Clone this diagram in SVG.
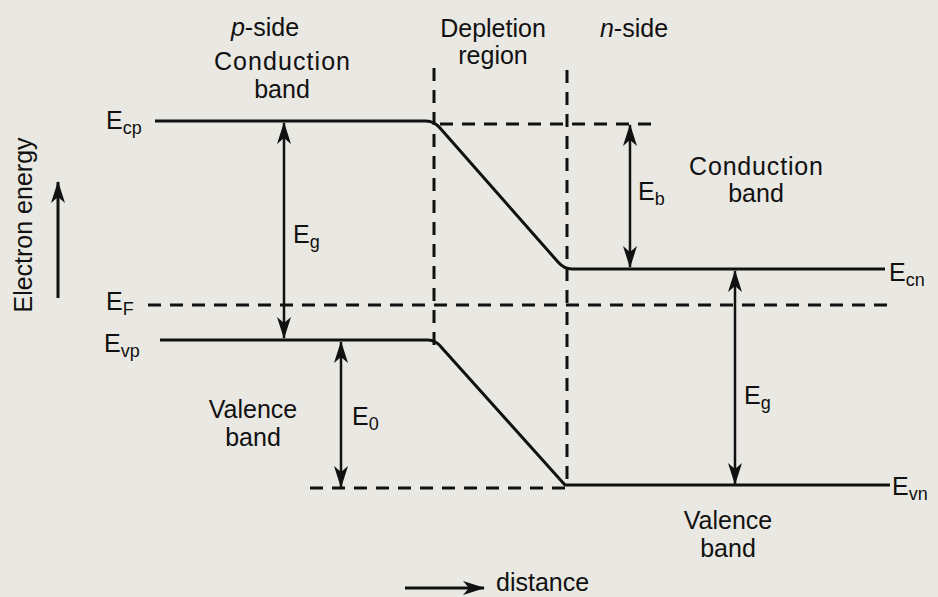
<svg xmlns="http://www.w3.org/2000/svg" width="938" height="597" viewBox="0 0 938 597">
<defs>
<marker id="ah" viewBox="0 0 22 14" refX="21" refY="7" markerWidth="22" markerHeight="14" markerUnits="userSpaceOnUse" orient="auto-start-reverse">
<path d="M0,0 L22,7 L0,14 L6,7 Z" fill="#111"/>
</marker>
<style>
.t{font-family:"Liberation Sans",Arial,sans-serif;font-size:25px;fill:#111}
.s{font-size:18px}
.band{fill:none;stroke:#111;stroke-width:3}
.dash{fill:none;stroke:#111;stroke-width:3;stroke-dasharray:13 9}
.arr{stroke:#111;stroke-width:2.5;marker-start:url(#ah);marker-end:url(#ah)}
</style>
</defs>
<rect width="938" height="597" fill="#e9e8e2"/>
<g id="connectors">
<path class="band" d="M155,121 H426 Q434,121 440,128 L558,262 Q564,269 572,269 H885"/>
<path class="band" d="M160,340 H428 Q436,340 442,348 L565,485 H890"/>
<path class="dash" d="M440,124 H660"/>
<path class="dash" d="M148,305 H892"/>
<path class="dash" d="M310,488 H565"/>
<path class="dash" d="M434,68 V345"/>
<path class="dash" d="M567,70 V488"/>
<line class="arr" x1="284" y1="123" x2="284" y2="338"/>
<line class="arr" x1="341" y1="342" x2="341" y2="487"/>
<line class="arr" x1="630" y1="125" x2="630" y2="267"/>
<line class="arr" x1="735" y1="271" x2="735" y2="484"/>
<line stroke="#111" stroke-width="3" x1="58" y1="298" x2="58" y2="182" marker-end="url(#ah)"/>
<line stroke="#111" stroke-width="3" x1="405" y1="588" x2="484" y2="588" marker-end="url(#ah)"/>
</g>
<g id="labels">
<text class="t" x="265" y="36" text-anchor="middle"><tspan font-style="italic">p</tspan>-side</text>
<text class="t" x="282" y="70" text-anchor="middle" textLength="136">Conduction</text>
<text class="t" x="282" y="98" text-anchor="middle">band</text>
<text class="t" x="493" y="37" text-anchor="middle">Depletion</text>
<text class="t" x="493" y="64" text-anchor="middle">region</text>
<text class="t" x="634" y="37" text-anchor="middle"><tspan font-style="italic">n</tspan>-side</text>
<text class="t" x="756" y="175" text-anchor="middle" textLength="134">Conduction</text>
<text class="t" x="756" y="202" text-anchor="middle">band</text>
<text class="t" x="253" y="418" text-anchor="middle">Valence</text>
<text class="t" x="253" y="446" text-anchor="middle">band</text>
<text class="t" x="728" y="529" text-anchor="middle">Valence</text>
<text class="t" x="728" y="557" text-anchor="middle">band</text>
<text class="t" x="496" y="591">distance</text>
<text class="t" transform="translate(32,225) rotate(-90)" text-anchor="middle">Electron energy</text>
<text class="t" x="106" y="129">E<tspan class="s" dy="5">cp</tspan></text>
<text class="t" x="106" y="310">E<tspan class="s" dy="5">F</tspan></text>
<text class="t" x="104" y="352">E<tspan class="s" dy="5">vp</tspan></text>
<text class="t" x="889" y="281">E<tspan class="s" dy="5">cn</tspan></text>
<text class="t" x="892" y="495">E<tspan class="s" dy="5">vn</tspan></text>
<text class="t" x="293" y="243">E<tspan class="s" dy="5">g</tspan></text>
<text class="t" x="352" y="425">E<tspan class="s" dy="5">0</tspan></text>
<text class="t" x="638" y="200">E<tspan class="s" dy="5">b</tspan></text>
<text class="t" x="744" y="404">E<tspan class="s" dy="5">g</tspan></text>
</g>
</svg>
